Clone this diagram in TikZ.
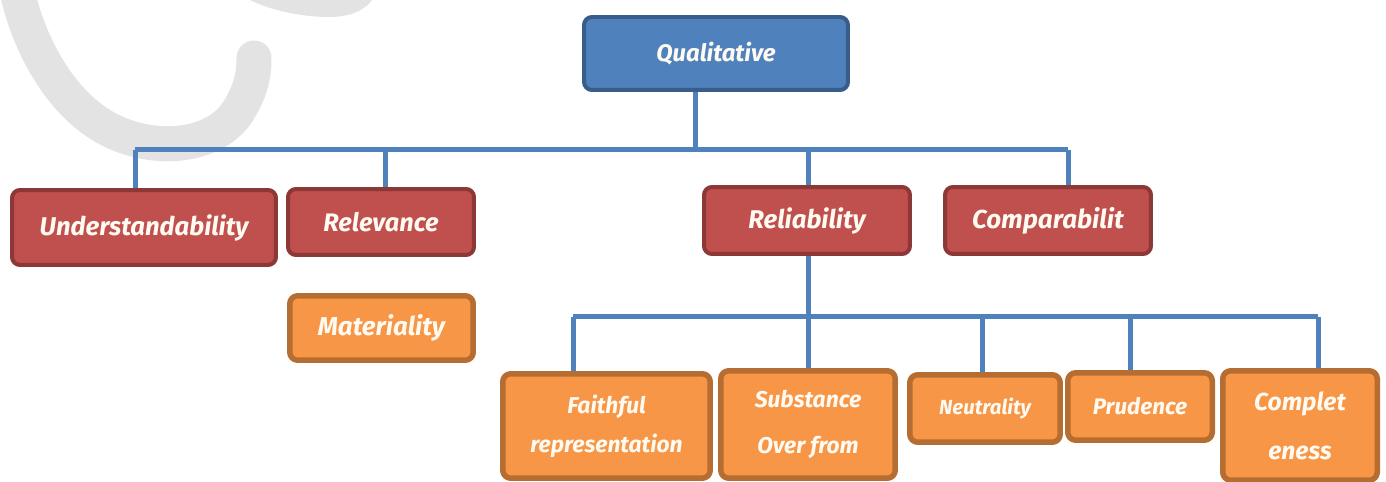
\documentclass[tikz,border=0pt]{standalone}
\usepackage{fontspec}
\setmainfont{Fira Sans}
\definecolor{qfill}{HTML}{4F81BD}
\definecolor{qline}{HTML}{385D8A}
\definecolor{rfill}{HTML}{C0504D}
\definecolor{rline}{HTML}{8C3836}
\definecolor{ofill}{HTML}{F79646}
\definecolor{oline}{HTML}{B66D31}
\definecolor{conn}{HTML}{4F81BD}
\definecolor{txt}{HTML}{FFFBF2}
\definecolor{wm}{HTML}{E3E3E3}
\begin{document}
\begin{tikzpicture}[x=0.02cm,y=-0.02cm,
  box/.style={rounded corners=0.16cm, inner sep=0pt, align=center, text=txt, font=\bfseries\itshape},
  qbox/.style={box, fill=qfill, draw=qline, line width=0.08cm},
  rbox/.style={box, fill=rfill, draw=rline, line width=0.08cm},
  obox/.style={box, fill=ofill, draw=oline, line width=0.11cm},
  link/.style={draw=conn, line width=0.1cm}]
\useasboundingbox[fill=white] (0,0) rectangle (1386,482);
% watermark
\draw[wm, line width=0.7cm, line cap=round] (15,-20) .. controls (25,40) and (60,105) .. (110,130)
  .. controls (160,155) and (220,145) .. (240,108) .. controls (252,88) and (254,72) .. (254,58);
\fill[wm] (250,0) .. controls (270,10) and (300,17) .. (330,17) .. controls (350,17) and (365,10) .. (372,0) -- cycle;
% nodes
\node[qbox, minimum width=5.28cm, minimum height=1.46cm, font=\bfseries\itshape\fontsize{13.6}{15}\selectfont] (Q) at (716,53.5) {Qualitative};
\node[rbox, minimum width=5.28cm, minimum height=1.50cm, font=\bfseries\itshape\fontsize{14.6}{16}\selectfont] (U) at (144,227.5) {Understandability};
\node[rbox, minimum width=3.72cm, minimum height=1.32cm, font=\bfseries\itshape\fontsize{14.4}{16}\selectfont] (Rv) at (381,222) {Relevance};
\node[obox, minimum width=3.67cm, minimum height=1.29cm, font=\bfseries\itshape\fontsize{14.7}{16}\selectfont] (M) at (381.5,328) {Materiality};
\node[rbox, minimum width=4.12cm, minimum height=1.34cm, font=\bfseries\itshape\fontsize{14.6}{16}\selectfont] (Rl) at (807,220.5) {Reliability};
\node[rbox, minimum width=4.12cm, minimum height=1.34cm, font=\bfseries\itshape\fontsize{14.8}{16}\selectfont] (C) at (1048,220.5) {Comparabilit};
\node[obox, minimum width=4.15cm, minimum height=2.09cm, font=\bfseries\itshape\fontsize{13}{22}\selectfont] (F) at (606.5,426) {Faithful\\representation};
\node[obox, minimum width=3.49cm, minimum height=2.15cm, font=\bfseries\itshape\fontsize{13}{26}\selectfont] (S) at (808,424.5) {Substance\\Over from};
\node[obox, minimum width=3.01cm, minimum height=1.35cm, font=\bfseries\itshape\fontsize{11.6}{13}\selectfont] (N) at (985,408.5) {Neutrality};
\node[obox, minimum width=2.89cm, minimum height=1.35cm, font=\bfseries\itshape\fontsize{12.8}{14}\selectfont] (P) at (1140,406.5) {Prudence};
\node[obox, minimum width=3.09cm, minimum height=2.19cm, font=\bfseries\itshape\fontsize{14}{28}\selectfont] (Cm) at (1300,425.5) {Complet\\eness};
% first level connectors
\coordinate (b1) at (695,150);
\coordinate (dU) at (135,150);
\coordinate (dRv) at (385,150);
\coordinate (dRl) at (808,150);
\coordinate (dC) at (1068,150);
\draw[link] (b1 |- Q.south) -- (b1);
\draw[link] (dU) -- (dC);
\draw[link] (dU) -- (dU |- U.north);
\draw[link] (dRv) -- (dRv |- Rv.north);
\draw[link] (dRl) -- (dRl |- Rl.north);
\draw[link] (dC) -- (dC |- C.north);
% second level connectors
\coordinate (b2) at (808,317);
\coordinate (dF) at (573,317);
\coordinate (dS) at (808,317);
\coordinate (dN) at (982,317);
\coordinate (dP) at (1130,317);
\coordinate (dCm) at (1318,317);
\draw[link] (b2 |- Rl.south) -- (b2);
\draw[link] (dF) -- (dCm);
\draw[link] (dF) -- (dF |- F.north);
\draw[link] (dS) -- (dS |- S.north);
\draw[link] (dN) -- (dN |- N.north);
\draw[link] (dP) -- (dP |- P.north);
\draw[link] (dCm) -- (dCm |- Cm.north);
\end{tikzpicture}
\end{document}
